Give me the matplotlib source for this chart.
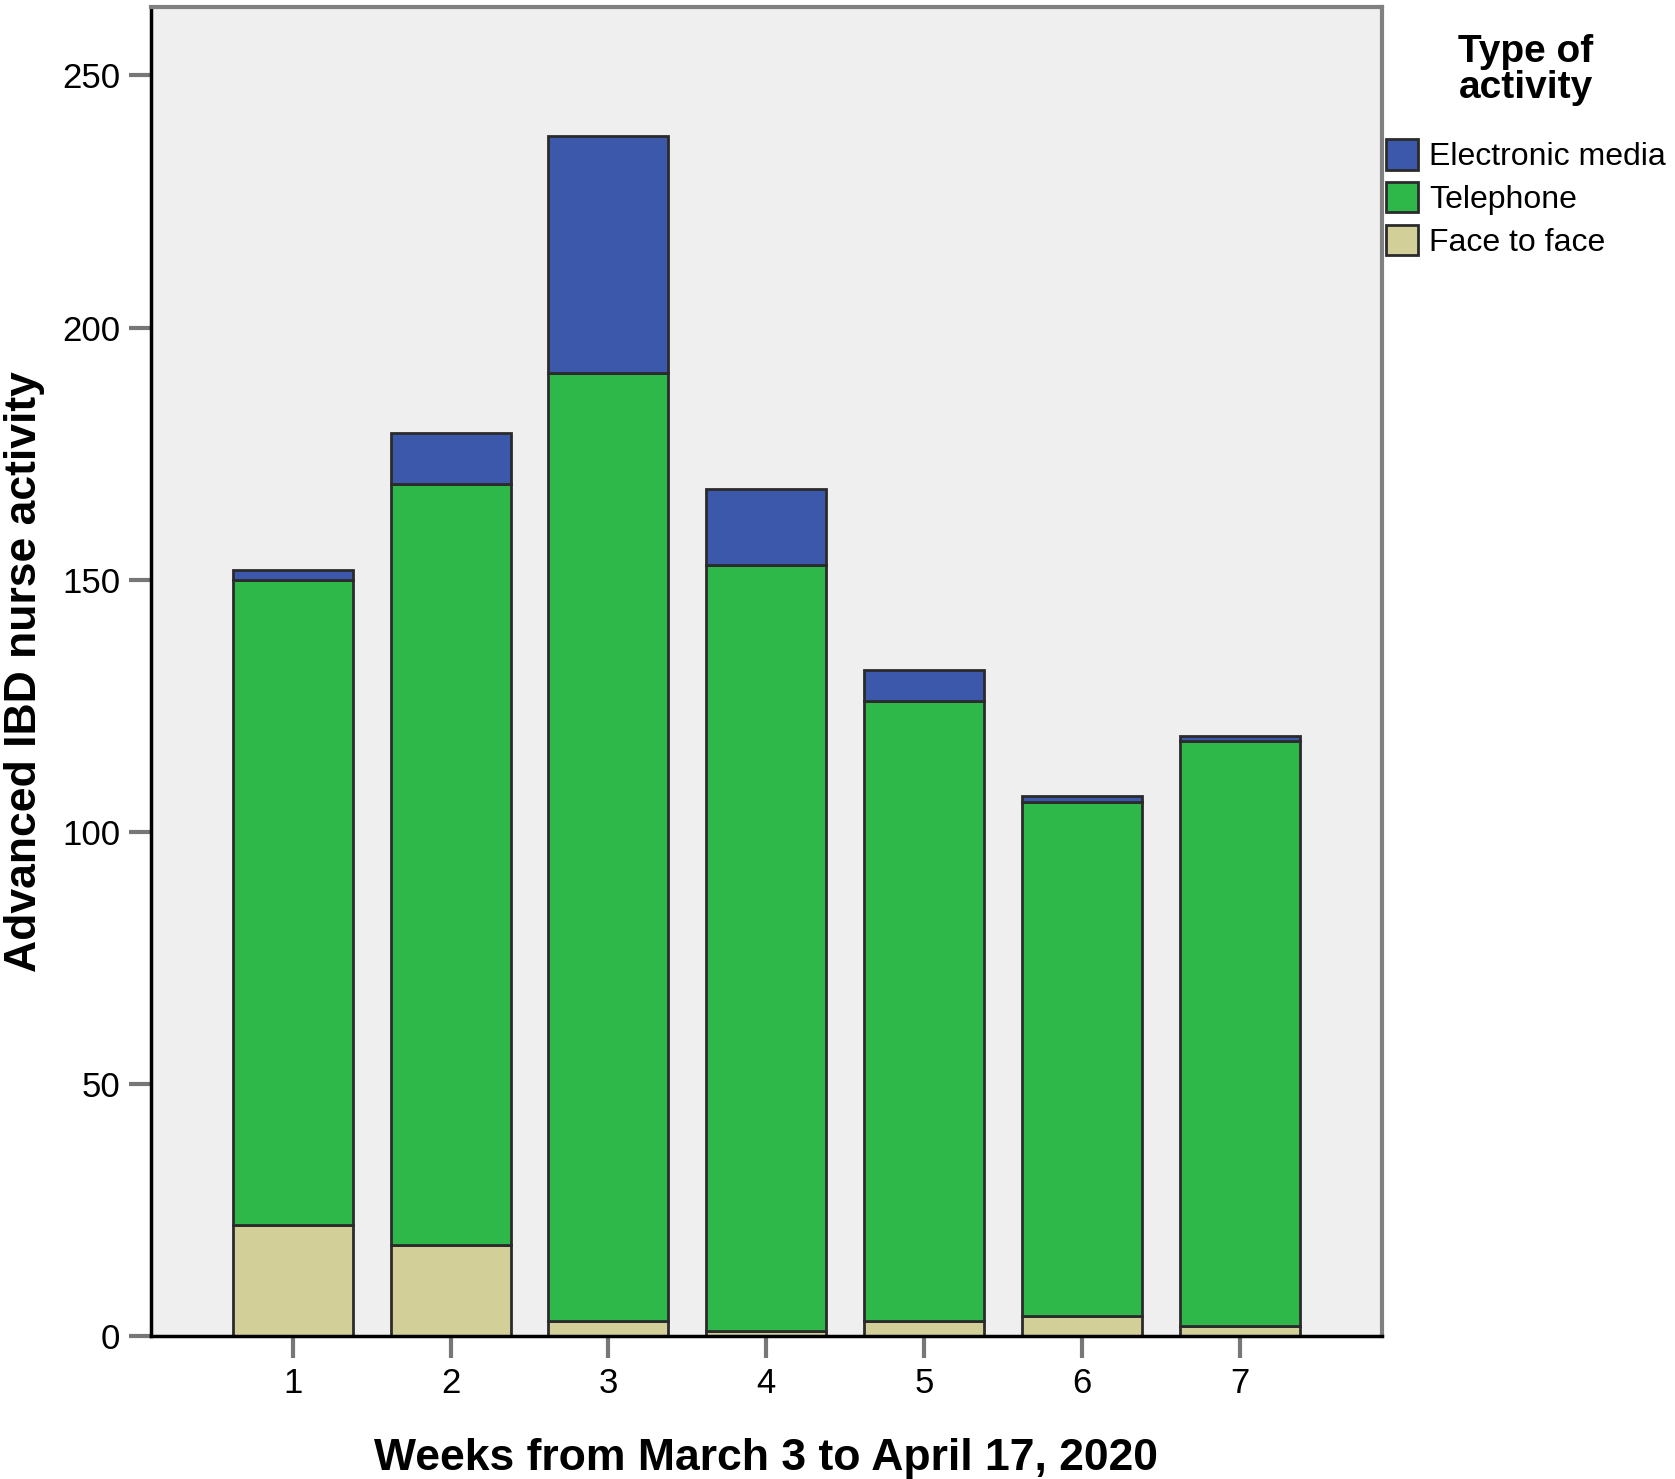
import matplotlib.pyplot as plt
import numpy as np

weeks = ['1', '2', '3', '4', '5', '6', '7']
face_to_face = [22, 18, 3, 1, 3, 4, 2]
telephone = [128, 151, 188, 152, 123, 102, 116]
electronic = [2, 10, 47, 15, 6, 1, 1]

plt.rcParams['font.family'] = ['Liberation Sans', 'DejaVu Sans']

fig = plt.figure(figsize=(16.75, 14.79), dpi=100)
ax = fig.add_axes([0.090, 0.0967, 0.735, 0.8983])
ax.set_facecolor('#EFEFEF')

x = np.arange(1, len(weeks) + 1)
w = 0.76
face = np.array(face_to_face)
tel = np.array(telephone)
elec = np.array(electronic)

ax.bar(x, face, w, color='#D3CF98', edgecolor='#2b2b2b', linewidth=2, label='Face to face')
ax.bar(x, tel, w, bottom=face, color='#2EB84A', edgecolor='#2b2b2b', linewidth=2, label='Telephone')
ax.bar(x, elec, w, bottom=face + tel, color='#3C58AA', edgecolor='#2b2b2b', linewidth=2, label='Electronic media')

ax.set_xlim(0.1, 7.9)
ax.set_ylim(0, 263.5)
ax.set_xticks(x)
ax.set_xticklabels(weeks)
ax.set_yticks([0, 50, 100, 150, 200, 250])
ax.tick_params(axis='both', labelsize=25, length=16, width=3, color='#777777', direction='out', pad=6)

for s in ['top', 'right']:
    ax.spines[s].set_color('#808080')
    ax.spines[s].set_linewidth(3)
for s in ['left', 'bottom']:
    ax.spines[s].set_color('black')
    ax.spines[s].set_linewidth(2.5)

ax.set_xlabel('Weeks from March 3 to April 17, 2020', fontsize=32, fontweight='bold', labelpad=28)
ax.set_ylabel('Advanced IBD nurse activity', fontsize=32, fontweight='bold', labelpad=12)

handles, labels = ax.get_legend_handles_labels()
leg = fig.legend(handles[::-1], labels[::-1], loc='upper left', bbox_to_anchor=(0.818, 0.988),
                 frameon=False, fontsize=23, title='Type of\nactivity', borderpad=0,
                 title_fontproperties={'size': 28, 'weight': 'bold'},
                 handlelength=1.0, handleheight=1.1, handletextpad=0.35, labelspacing=0.3)
leg._legend_box.align = 'center'
leg._legend_box.sep = 24
leg.get_title().set_linespacing(1.0)

fig.savefig('out.png', dpi=100)
